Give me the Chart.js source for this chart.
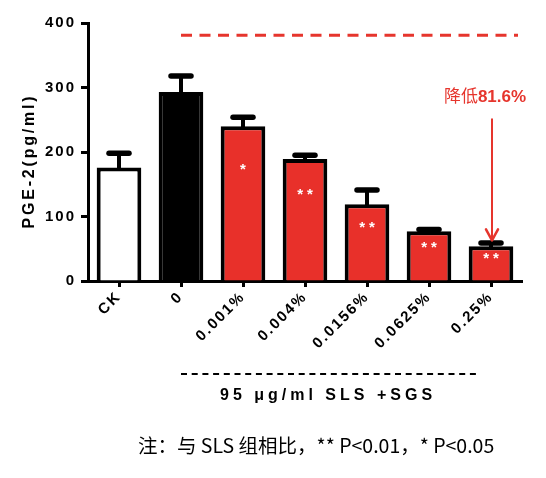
<!DOCTYPE html>
<html>
<head>
<meta charset="utf-8">
<title>PGE-2</title>
<script src="https://cdn.jsdelivr.net/npm/chart.js@4.4.0/dist/chart.umd.min.js"></script>
<style>
    body { margin: 0; background: #fff; }
    #wrap { position: relative; width: 546px; height: 478px; }
    #pgeChart { position: absolute; left: 0; top: 0; }
    #groupLabel {
        position: absolute; top: 386px; left: 220px;
        font: bold 16px 'Liberation Sans', Arial, sans-serif;
        letter-spacing: 4px; white-space: pre; color: #000;
    }
    #note {
        position: absolute; top: 430px; left: 138px;
        font: 19.5px 'Noto Sans CJK SC', sans-serif; white-space: pre; color: #000;
    }
</style>
</head>
<body>
<div id="wrap">
    <canvas id="pgeChart" width="546" height="478"></canvas>
    <div id="groupLabel">95 μg/ml SLS +SGS</div>
    <div id="note">注：与 SLS 组相比，** P&lt;0.01，* P&lt;0.05</div>
</div>
<script>
// values
const categories = ['CK', '0', '0.001%', '0.004%', '0.0156%', '0.0625%', '0.25%'];
const means = [176, 293, 240, 189, 119, 77, 54];
const errors = [22, 25, 14, 6, 22, 3, 5];
const stars = ['', '', '*', '**', '**', '**', '**'];
const barColors = ['#ffffff', '#000000', '#e8302a', '#e8302a', '#e8302a', '#e8302a', '#e8302a'];
const yTicks = [0, 100, 200, 300, 400];
const dashLevel = 381;       // red dashed reference line
const arrowFrom = 252;       // arrow start (value)
const arrowTo = 63;          // arrow tip (value)
const reductionText = ['降低', '81.6%'];

const RED = '#e6352d';
const AXIS_FONT = '"Liberation Sans", Arial, sans-serif';

const extras = {
    id: 'extras',
    // the original figure uses spaced-out axis lettering
    beforeUpdate(chart) { chart.ctx.letterSpacing = '2px'; },
    beforeDraw(chart) { chart.ctx.letterSpacing = '2px'; },
    afterDatasetsDraw(chart) {
        const { ctx, scales: { y } } = chart;
        const meta = chart.getDatasetMeta(0);
        ctx.save();

        // error bars (upper only)
        ctx.strokeStyle = '#000';
        ctx.lineCap = 'round';
        meta.data.forEach((bar, i) => {
            const top = y.getPixelForValue(means[i]);
            const end = y.getPixelForValue(means[i] + errors[i]);
            ctx.lineWidth = 4;
            ctx.beginPath();
            ctx.moveTo(bar.x, top);
            ctx.lineTo(bar.x, end);
            ctx.stroke();
            ctx.lineWidth = 5.5;
            ctx.beginPath();
            ctx.moveTo(bar.x - 10, end);
            ctx.lineTo(bar.x + 10, end);
            ctx.stroke();
        });

        // significance stars
        ctx.fillStyle = '#fff';
        ctx.font = 'bold 15px ' + AXIS_FONT;
        ctx.letterSpacing = '4px';
        ctx.textAlign = 'center';
        ctx.textBaseline = 'alphabetic';
        meta.data.forEach((bar, i) => {
            if (!stars[i]) return;
            const yy = bar.y + (bar.base - bar.y) * 0.26 + 8;
            ctx.fillText(stars[i], bar.x + 2, yy);
        });
        ctx.restore();
    },
    afterDraw(chart) {
        const { ctx, chartArea, scales: { y } } = chart;
        const meta = chart.getDatasetMeta(0);
        ctx.save();

        // y axis title
        ctx.save();
        ctx.translate(30, 161);
        ctx.rotate(-Math.PI / 2);
        ctx.fillStyle = '#000';
        ctx.font = 'bold 16px ' + AXIS_FONT;
        ctx.letterSpacing = '2.8px';
        ctx.textAlign = 'center';
        ctx.textBaseline = 'middle';
        ctx.fillText('PGE-2(pg/ml)', 0, 0);
        ctx.restore();

        ctx.letterSpacing = '0px';

        // red dashed line from the SLS bar
        const dy = y.getPixelForValue(dashLevel);
        ctx.strokeStyle = RED;
        ctx.lineWidth = 3;
        ctx.setLineDash([11, 7.5]);
        ctx.beginPath();
        ctx.moveTo(meta.data[1].x, dy);
        ctx.lineTo(chartArea.right - 4, dy);
        ctx.stroke();

        // arrow to last bar
        const last = meta.data[meta.data.length - 1];
        const ay0 = y.getPixelForValue(arrowFrom);
        const ay1 = y.getPixelForValue(arrowTo);
        const ax = last.x + 1;
        ctx.setLineDash([]);
        ctx.lineWidth = 2;
        ctx.beginPath();
        ctx.moveTo(ax, ay0);
        ctx.lineTo(ax, ay1);
        ctx.stroke();
        ctx.lineWidth = 2.5;
        ctx.lineCap = 'round';
        ctx.lineJoin = 'round';
        ctx.beginPath();
        ctx.moveTo(ax - 6, ay1 - 11);
        ctx.lineTo(ax, ay1);
        ctx.lineTo(ax + 6, ay1 - 11);
        ctx.stroke();

        // reduction label
        ctx.fillStyle = RED;
        ctx.textBaseline = 'alphabetic';
        ctx.textAlign = 'left';
        const f1 = '17px "Noto Sans CJK SC", sans-serif';
        const f2 = 'bold 17px ' + AXIS_FONT;
        ctx.font = f1;
        const w1 = ctx.measureText(reductionText[0]).width;
        ctx.font = f2;
        const w2 = ctx.measureText(reductionText[1]).width;
        const lx = ax - 7 - (w1 + w2) / 2;
        const ly = ay0 - 16;
        ctx.font = f1;
        ctx.fillText(reductionText[0], lx, ly);
        ctx.font = f2;
        ctx.fillText(reductionText[1], lx + w1, ly);

        // black dashed bracket under the treated groups
        ctx.strokeStyle = '#000';
        ctx.lineWidth = 2;
        ctx.lineCap = 'butt';
        ctx.setLineDash([6, 4.7]);
        ctx.beginPath();
        ctx.moveTo(meta.data[1].x, 374);
        ctx.lineTo(last.x - 11, 374);
        ctx.stroke();

        ctx.restore();
    }
};

const ctx = document.getElementById('pgeChart').getContext('2d');

new Chart(ctx, {
    type: 'bar',
    data: {
        labels: categories,
        datasets: [{
            label: 'PGE-2',
            data: means,
            backgroundColor: barColors,
            borderColor: '#000',
            borderWidth: 4,
            barPercentage: 0.72,
            categoryPercentage: 1
        }]
    },
    options: {
        responsive: false,
        animation: false,
        layout: { padding: { top: 23, right: 24, left: 0, bottom: 0 } },
        plugins: {
            legend: { display: false },
            tooltip: { enabled: false }
        },
        scales: {
            x: {
                z: 1,
                afterFit: s => { s.height = 197; },
                border: { color: '#000', width: 3 },
                grid: {
                    display: true, offset: false, drawOnChartArea: false,
                    tickLength: 6, tickWidth: 3, tickColor: '#000'
                },
                ticks: {
                    color: '#000',
                    font: { family: AXIS_FONT, size: 15, weight: 'bold' },
                    minRotation: 45,
                    maxRotation: 45,
                    padding: 1
                }
            },
            y: {
                z: 1,
                min: 0,
                max: 400,
                afterFit: s => { s.width = 88; },
                afterBuildTicks: s => { s.ticks = yTicks.map(v => ({ value: v })); },
                border: { color: '#000', width: 3 },
                grid: {
                    display: true, drawOnChartArea: false,
                    tickLength: 7, tickWidth: 3, tickColor: '#000'
                },
                ticks: {
                    color: '#000',
                    font: { family: AXIS_FONT, size: 15, weight: 'bold' },
                    padding: 5
                }
            }
        }
    },
    plugins: [extras]
});
</script>
</body>
</html>
